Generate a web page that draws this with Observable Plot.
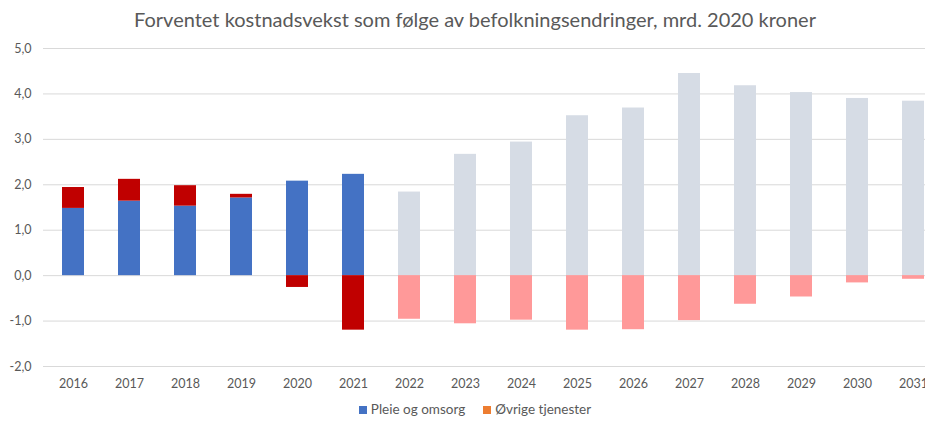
<!DOCTYPE html>
<html>
<head>
<meta charset="utf-8">
<script src="https://cdn.jsdelivr.net/npm/d3@7"></script>
<script src="https://cdn.jsdelivr.net/npm/@observablehq/plot@0.6"></script>
<style>
  html, body { margin: 0; padding: 0; background: #fff; overflow: hidden; width: 925px; height: 421px; }
  #wrap { width: 950px; font-family: Lato, "Open Sans", sans-serif; color: #595959; }
  #title { height: 38px; line-height: 38px; text-align: center; font-size: 20px; color: #595959; white-space: nowrap; }
  #legend { text-align: center; font-size: 13.5px; color: #595959; margin-top: 5px; }
  #legend span.item { display: inline-block; margin: 0 9px; }
  #legend span.sw { display: inline-block; width: 8px; height: 8px; margin-right: 4px; vertical-align: 0px; }
  svg { display: block; }
</style>
</head>
<body>
<div id="wrap">
  <div id="title">Forventet kostnadsvekst som følge av befolkningsendringer, mrd. 2020 kroner</div>
  <div id="chart"></div>
  <div id="legend"></div>
</div>
<script>
const years = ["2016","2017","2018","2019","2020","2021","2022","2023","2024","2025","2026","2027","2028","2029","2030","2031"];
const pleie = [1.48, 1.64, 1.53, 1.71, 2.08, 2.23, 1.84, 2.67, 2.94, 3.52, 3.69, 4.45, 4.18, 4.03, 3.90, 3.84];
const ovrige = [0.46, 0.48, 0.45, 0.08, -0.26, -1.20, -0.96, -1.06, -0.98, -1.20, -1.19, -0.99, -0.63, -0.47, -0.16, -0.08];
const seriesNames = ["Pleie og omsorg", "Øvrige tjenester"];
const firstProjectionYear = "2022";
const yTicks = [-2, -1, 0, 1, 2, 3, 4, 5];

const histColors = {"Pleie og omsorg": "#4472C4", "Øvrige tjenester": "#C00000"};
const projColors = {"Pleie og omsorg": "#D6DCE5", "Øvrige tjenester": "#FF9999"};
const legendColors = {"Pleie og omsorg": "#4472C4", "Øvrige tjenester": "#ED7D31"};

const data = [];
years.forEach((yr, i) => {
  data.push({year: yr, series: seriesNames[0], value: pleie[i]});
  data.push({year: yr, series: seriesNames[1], value: ovrige[i]});
});
const isProj = d => +d.year >= +firstProjectionYear;
const fmt = v => (v < 0 ? "-" : "") + Math.abs(v).toFixed(1).replace(".", ",");

const chart = Plot.plot({
  width: 945,
  height: 358,
  marginLeft: 43,
  marginRight: 3,
  marginTop: 10,
  marginBottom: 30,
  style: {fontFamily: "Lato, 'Open Sans', sans-serif", fontSize: "12.5px", color: "#595959", background: "#fff", overflow: "visible"},
  x: {domain: years, padding: 0, label: null, tickSize: 0, tickPadding: 13},
  y: {domain: [-2, 5], ticks: yTicks, label: null, tickSize: 0, tickPadding: 12, tickFormat: fmt},
  color: {type: "identity"},
  marks: [
    Plot.ruleY(yTicks, {stroke: "#D9D9D9", strokeWidth: 1}),
    Plot.barY(data, {
      x: "year", y: "value",
      fill: d => isProj(d) ? projColors[d.series] : histColors[d.series],
      insetLeft: 17, insetRight: 17
    })
  ]
});
document.getElementById("chart").appendChild(chart);

const legend = document.getElementById("legend");
seriesNames.forEach(n => {
  const item = document.createElement("span");
  item.className = "item";
  const sw = document.createElement("span");
  sw.className = "sw";
  sw.style.background = legendColors[n];
  item.appendChild(sw);
  item.appendChild(document.createTextNode(n));
  legend.appendChild(item);
});
</script>
</body>
</html>
